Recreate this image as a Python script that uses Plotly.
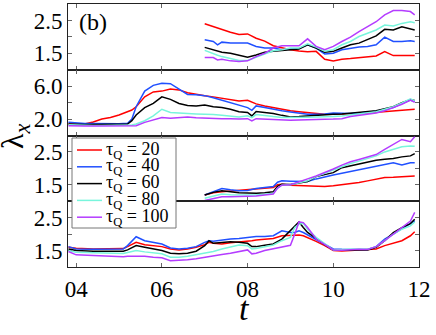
import plotly.graph_objects as go
from plotly.subplots import make_subplots

# ---- data (t vs lambda_x, one panel per array set) ----
names = ["τ<sub>Q</sub> = 20", "τ<sub>Q</sub> = 40", "τ<sub>Q</sub> = 60",
         "τ<sub>Q</sub> = 80", "τ<sub>Q</sub> = 100"]
colors = ["#ff0000", "#2050ff", "#000000", "#78f5dc", "#b43cff"]

t1 = [7.0, 7.2, 7.3, 7.4, 7.6, 7.8, 8.0, 8.2, 8.4, 8.6, 8.8, 9.0, 9.2, 9.4, 9.6,
      9.8, 10.0, 10.2, 10.4, 10.6, 10.8, 11.0, 11.2, 11.4, 11.6, 11.8, 11.9]
p1_q20 = [2.40, 2.31, 2.27, 2.24, 2.14, 2.07, 2.09, 1.96, 1.87, 1.73, 1.66, 1.61, 1.57, 1.55,
          1.56, 1.32, 1.27, 1.32, 1.34, 1.36, 1.38, 1.42, 1.55, 1.43, 1.43, 1.43, 1.43]
p1_q40 = [1.91, 1.86, 1.76, 1.84, 1.81, 1.81, 1.81, 1.71, 1.66, 1.66, 1.61, 1.63, 1.65, 1.76,
          1.66, 1.48, 1.50, 1.61, 1.66, 1.69, 1.71, 1.76, 1.99, 1.86, 1.86, 1.88, 1.86]
p1_q60 = [1.68, 1.61, 1.56, 1.53, 1.50, 1.45, 1.38, 1.45, 1.53, 1.56, 1.59, 1.61, 1.63, 1.76,
          1.66, 1.53, 1.56, 1.66, 1.76, 1.81, 1.91, 2.03, 2.23, 2.21, 2.31, 2.23, 2.21]
p1_q80 = [1.59, 1.48, 1.44, 1.40, 1.35, 1.28, 1.28, 1.38, 1.48, 1.58, 1.61, 1.66, 1.66, 1.79,
          1.69, 1.56, 1.61, 1.76, 1.86, 2.01, 2.11, 2.21, 2.36, 2.33, 2.41, 2.46, 2.43]
p1_q100 = [1.37, 1.37, 1.30, 1.32, 1.27, 1.25, 1.27, 1.40, 1.50, 1.66, 1.73, 1.73, 1.73, 1.94,
           1.71, 1.61, 1.71, 1.86, 1.99, 2.16, 2.31, 2.46, 2.67, 2.80, 2.80, 2.77, 2.67]

t2 = [3.82, 4.0, 4.2, 4.4, 4.6, 4.8, 5.0, 5.2, 5.3, 5.4, 5.6, 5.8, 6.0, 6.2, 6.4, 6.6, 6.8,
      7.0, 7.2, 7.4, 7.6, 7.8, 8.0, 8.1, 8.2, 8.4, 8.6, 8.8, 9.0, 9.2, 9.4, 9.6, 9.8, 10.0,
      10.2, 10.4, 10.6, 10.8, 11.0, 11.2, 11.4, 11.6, 11.8, 11.9]
p2_q20 = [1.40, 1.35, 1.40, 1.65, 2.00, 2.20, 2.50, 2.85, 3.10, 3.50, 4.70, 5.30, 5.40, 5.65,
          5.55, 5.20, 5.00, 4.85, 4.70, 4.55, 4.35, 4.20, 4.28, 4.10, 3.85, 3.60, 3.40, 3.20,
          3.00, 2.90, 2.80, 2.70, 2.60, 2.60, 2.60, 2.62, 2.67, 2.75, 2.82, 2.92, 3.00, 3.10,
          3.17, 3.19]
p2_q40 = [1.60, 1.50, 1.45, 1.45, 1.42, 1.42, 1.42, 1.50, 2.00, 3.50, 5.40, 6.10, 6.35, 6.30,
          5.60, 5.00, 4.95, 4.85, 4.60, 4.30, 4.00, 3.70, 3.39, 3.07, 3.60, 3.40, 3.19, 3.00,
          2.87, 2.70, 2.60, 2.60, 2.62, 2.75, 2.70, 2.67, 2.75, 2.85, 2.95, 3.20, 3.40, 3.90,
          4.30, 4.15]
p2_q60 = [1.40, 1.35, 1.35, 1.35, 1.35, 1.35, 1.35, 1.40, 1.80, 2.50, 3.40, 3.90, 4.70, 4.40,
          3.90, 3.65, 3.60, 3.72, 3.50, 3.40, 3.19, 2.90, 2.80, 2.38, 2.91, 2.80, 2.67, 2.45,
          2.26, 2.30, 2.38, 2.50, 2.60, 2.60, 2.62, 2.70, 2.79, 2.90, 3.00, 3.25, 3.50, 4.00,
          4.35, 4.25]
p2_q80 = [1.30, 1.25, 1.25, 1.22, 1.22, 1.22, 1.22, 1.25, 1.28, 1.40, 1.80, 2.38, 3.19, 2.80,
          2.70, 2.67, 2.62, 2.60, 2.55, 2.45, 2.35, 2.25, 2.40, 2.18, 2.55, 2.40, 2.30, 2.20,
          2.18, 2.20, 2.22, 2.24, 2.25, 2.30, 2.38, 2.50, 2.60, 2.75, 2.90, 3.19, 3.50, 3.95,
          4.45, 4.20]
p2_q100 = [1.20, 1.15, 1.15, 1.15, 1.15, 1.15, 1.15, 1.15, 1.18, 1.20, 1.60, 1.90, 2.18, 2.10,
           2.15, 2.26, 2.15, 2.10, 2.10, 2.05, 2.05, 2.00, 2.05, 1.78, 2.05, 2.00, 1.90, 1.86,
           1.86, 1.90, 1.95, 1.98, 1.98, 2.00, 2.05, 2.30, 2.45, 2.60, 2.75, 3.00, 3.40, 3.80,
           4.30, 4.05]

t3 = [7.0, 7.2, 7.4, 7.6, 7.8, 8.0, 8.2, 8.4, 8.6, 8.7, 8.8, 9.0, 9.2, 9.4, 9.6, 9.8,
      10.0, 10.2, 10.4, 10.6, 10.8, 11.0, 11.2, 11.4, 11.6, 11.8, 11.9]
p3_q20 = [1.19, 1.26, 1.29, 1.31, 1.32, 1.34, 1.36, 1.39, 1.42, 1.50, 1.52, 1.49, 1.48, 1.46,
          1.45, 1.45, 1.47, 1.50, 1.54, 1.57, 1.62, 1.66, 1.72, 1.73, 1.74, 1.76, 1.77]
p3_q40 = [1.19, 1.30, 1.39, 1.35, 1.32, 1.33, 1.39, 1.42, 1.45, 1.58, 1.62, 1.61, 1.60, 1.60,
          1.68, 1.75, 1.80, 1.85, 1.90, 1.95, 2.02, 2.06, 2.12, 2.17, 2.10, 2.17, 2.17]
p3_q60 = [1.19, 1.27, 1.32, 1.28, 1.26, 1.25, 1.24, 1.26, 1.29, 1.45, 1.52, 1.51, 1.55, 1.60,
          1.75, 1.80, 1.87, 2.02, 2.08, 2.12, 2.20, 2.25, 2.28, 2.30, 2.35, 2.38, 2.45]
p3_q80 = [1.09, 1.15, 1.22, 1.20, 1.19, 1.19, 1.19, 1.21, 1.24, 1.40, 1.49, 1.50, 1.55, 1.62,
          1.75, 1.85, 1.95, 2.05, 2.15, 2.22, 2.30, 2.38, 2.50, 2.58, 2.66, 2.68, 2.67]
p3_q100 = [1.02, 1.08, 1.14, 1.14, 1.14, 1.15, 1.16, 1.19, 1.22, 1.40, 1.49, 1.50, 1.58, 1.68,
           1.77, 1.87, 1.98, 2.10, 2.20, 2.27, 2.35, 2.42, 2.58, 2.72, 2.88, 2.81, 2.96]

t4 = [3.82, 4.0, 4.4, 4.8, 5.1, 5.2, 5.4, 5.6, 5.8, 6.0, 6.2, 6.4, 6.6, 6.8, 7.0, 7.1, 7.2,
      7.4, 7.6, 7.8, 8.0, 8.1, 8.2, 8.4, 8.6, 8.8, 9.0, 9.1, 9.2, 9.3, 9.4, 9.6, 9.8, 10.0,
      10.2, 10.4, 10.6, 10.8, 11.0, 11.2, 11.4, 11.6, 11.8, 11.9]
p4_q20 = [1.60, 1.57, 1.55, 1.55, 1.56, 1.62, 1.75, 1.68, 1.65, 1.62, 1.55, 1.52, 1.55, 1.60,
          1.68, 1.75, 1.72, 1.70, 1.74, 1.76, 1.77, 1.80, 1.82, 1.84, 1.87, 1.95, 1.97, 1.97,
          1.97, 1.95, 1.90, 1.78, 1.65, 1.50, 1.49, 1.50, 1.51, 1.52, 1.55, 1.65, 1.72, 1.80,
          1.95, 2.07]
p4_q40 = [1.62, 1.55, 1.54, 1.54, 1.55, 1.65, 1.92, 1.80, 1.75, 1.70, 1.58, 1.55, 1.57, 1.62,
          1.75, 1.80, 1.78, 1.82, 1.85, 1.87, 1.90, 1.93, 1.93, 1.93, 1.95, 2.10, 2.05, 2.05,
          2.10, 2.05, 1.98, 1.85, 1.70, 1.55, 1.54, 1.54, 1.53, 1.53, 1.62, 1.85, 2.00, 2.15,
          2.30, 2.40]
p4_q60 = [1.55, 1.50, 1.48, 1.48, 1.48, 1.52, 1.65, 1.60, 1.55, 1.50, 1.42, 1.40, 1.42, 1.48,
          1.65, 1.80, 1.72, 1.75, 1.77, 1.75, 1.72, 1.62, 1.62, 1.66, 1.70, 1.85, 2.10, 2.25,
          2.37, 2.20, 2.05, 1.87, 1.68, 1.52, 1.52, 1.53, 1.53, 1.52, 1.60, 1.80, 2.05, 2.20,
          2.32, 2.45]
p4_q80 = [1.50, 1.45, 1.43, 1.42, 1.41, 1.44, 1.50, 1.46, 1.44, 1.40, 1.30, 1.30, 1.33, 1.38,
          1.42, 1.45, 1.47, 1.55, 1.62, 1.67, 1.65, 1.55, 1.56, 1.62, 1.67, 1.80, 1.90, 2.20,
          2.30, 2.33, 2.15, 1.90, 1.70, 1.52, 1.53, 1.55, 1.55, 1.54, 1.62, 1.80, 2.00, 2.15,
          2.25, 2.37]
p4_q100 = [1.47, 1.37, 1.35, 1.33, 1.31, 1.33, 1.34, 1.33, 1.30, 1.28, 1.19, 1.20, 1.22, 1.25,
           1.30, 1.32, 1.34, 1.38, 1.42, 1.48, 1.52, 1.40, 1.42, 1.50, 1.55, 1.62, 1.66, 2.00,
           2.37, 2.35, 2.20, 1.85, 1.68, 1.52, 1.51, 1.53, 1.54, 1.53, 1.62, 1.80, 2.00, 2.18,
           2.40, 2.66]

panels = [
    (t1, [p1_q20, p1_q40, p1_q60, p1_q80, p1_q100]),
    (t2, [p2_q20, p2_q40, p2_q60, p2_q80, p2_q100]),
    (t3, [p3_q20, p3_q40, p3_q60, p3_q80, p3_q100]),
    (t4, [p4_q20, p4_q40, p4_q60, p4_q80, p4_q100]),
]
y_ranges = [[1.0, 3.0], [0.0, 8.0], [1.0, 3.0], [1.0, 3.0]]
y_major = [[1.5, 2.5], [2, 6], [1.5, 2.5], [1.5, 2.5]]
y_major_text = [["1.5", "2.5"], ["2.0", "6.0"], ["1.5", "2.5"], ["1.5", "2.5"]]
y_minor = [[2.0], [4.0], [2.0], [2.0]]
x_tickvals = [4, 6, 8, 10, 12]
x_ticktext = ["04", "06", "08", "10", "12"]

SERIF = "Liberation Serif"

# plot area in pixels (used only to place the hand-drawn legend box)
W, H = 436, 335
ML, MR, MT, MB = 68, 17, 4, 68


def px_x(x):
    return (x - ML) / (W - ML - MR)


def px_y(y):
    return (H - MB - y) / (H - MT - MB)


fig = make_subplots(rows=4, cols=1, shared_xaxes=True, vertical_spacing=0)

for row, (t, series) in enumerate(panels, start=1):
    for i, ys in enumerate(series):
        fig.add_trace(go.Scatter(
            x=t, y=ys, mode="lines",
            name=names[i],
            line=dict(color=colors[i], width=1.5),
            showlegend=False,
        ), row=row, col=1)

axis_style = dict(
    showline=True, linecolor="#222", linewidth=1, mirror="ticks",
    ticks="inside", ticklen=4, tickcolor="#666",
    showgrid=False, zeroline=False, layer="below traces",
    tickfont=dict(family=SERIF, size=23, color="black"),
)

for row in range(1, 5):
    fig.update_yaxes(range=y_ranges[row - 1], tickvals=y_major[row - 1],
                     ticktext=y_major_text[row - 1],
                     minor=dict(tickvals=y_minor[row - 1], ticks="inside",
                                ticklen=4, tickcolor="#666"),
                     row=row, col=1, **axis_style)
    fig.update_xaxes(range=[3.81, 12.0], tickvals=x_tickvals, ticktext=x_ticktext,
                     ticklabelstandoff=1, row=row, col=1, **axis_style)

# legend drawn by hand so that its compact row spacing matches the original
shapes = [dict(type="rect", xref="paper", yref="paper",
               x0=px_x(72), x1=px_x(176), y0=px_y(228), y1=px_y(138),
               fillcolor="white", line=dict(color="#777", width=1), layer="above")]
annotations = []
for i, name in enumerate(names):
    yc = px_y(150 + 16.8 * i)
    shapes.append(dict(type="line", xref="paper", yref="paper",
                       x0=px_x(77), x1=px_x(102), y0=yc, y1=yc,
                       line=dict(color=colors[i], width=1.5), layer="above"))
    annotations.append(dict(text=name, x=px_x(104), y=yc, xref="paper", yref="paper",
                            xanchor="left", yanchor="middle", showarrow=False,
                            font=dict(family=SERIF, size=18)))

annotations += [
    dict(text="(b)", x=px_x(77), y=px_y(22), xref="paper", yref="paper",
         xanchor="left", yanchor="middle", showarrow=False,
         font=dict(family=SERIF, size=24)),
    dict(text="λ<sub><i>x</i></sub>", x=px_x(14), y=px_y(136), xref="paper", yref="paper",
         xanchor="center", yanchor="middle", textangle=-90, showarrow=False,
         font=dict(family=SERIF, size=32)),
    dict(text="<i>t</i>", x=px_x(244), y=px_y(308), xref="paper", yref="paper",
         xanchor="center", yanchor="middle", showarrow=False,
         font=dict(family=SERIF, size=34)),
]

fig.update_layout(
    width=W, height=H,
    margin=dict(l=ML, r=MR, t=MT, b=MB),
    plot_bgcolor="white", paper_bgcolor="white",
    font=dict(family=SERIF, color="black"),
    showlegend=False,
    shapes=shapes,
    annotations=annotations,
)

fig.write_html("out.html", config={"displayModeBar": False},
               post_script="document.body.style.margin = '0';")
